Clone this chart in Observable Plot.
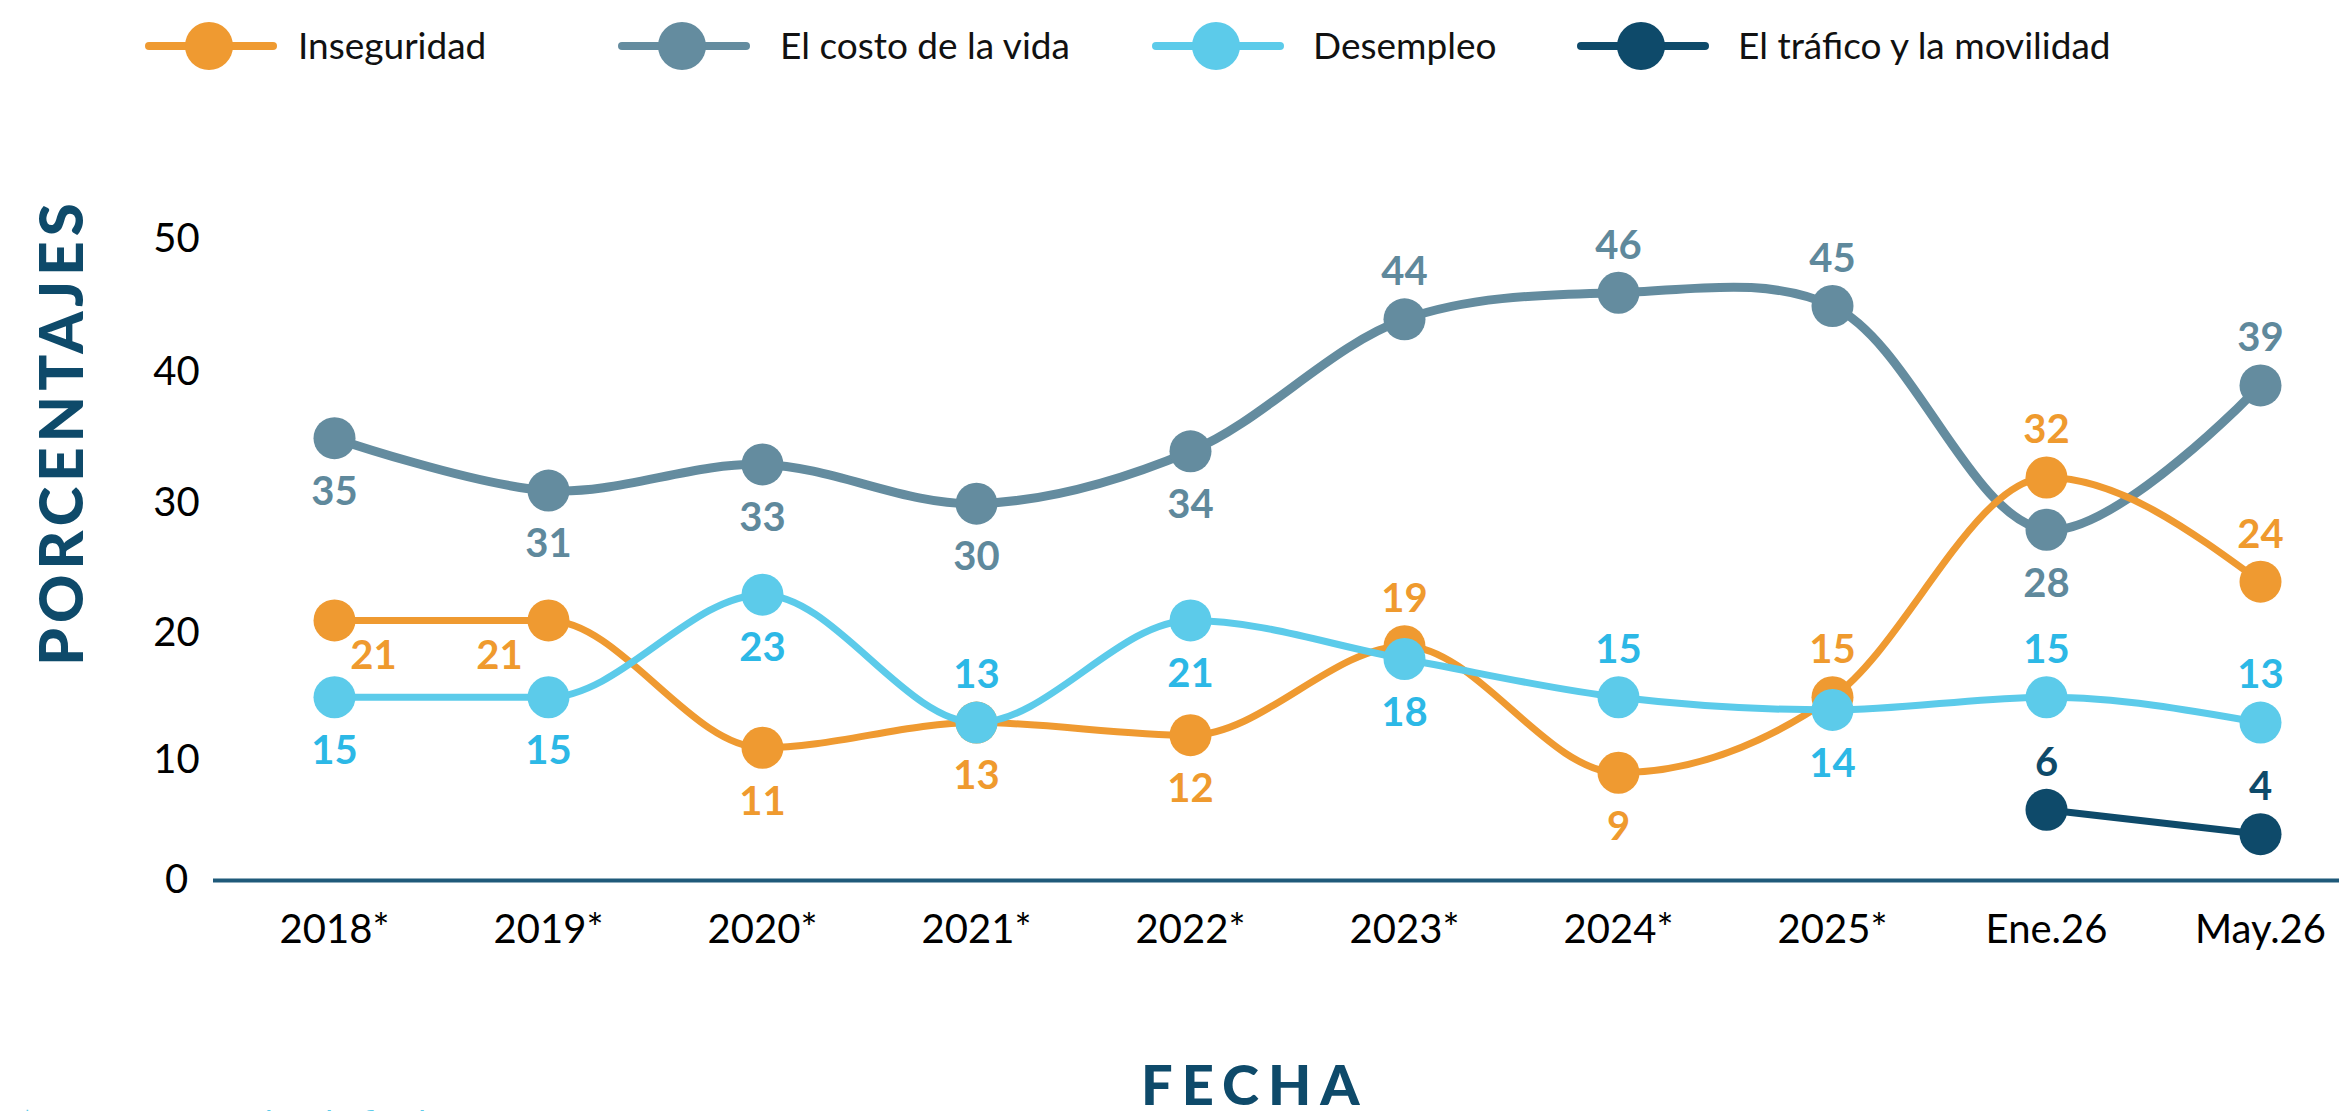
<!DOCTYPE html>
<html>
<head>
<meta charset="utf-8">
<script src="https://cdn.jsdelivr.net/npm/d3@7"></script>
<script src="https://cdn.jsdelivr.net/npm/@observablehq/plot@0.6"></script>
<style>
  html, body { margin: 0; padding: 0; background: #ffffff; }
  #root { position: relative; width: 2339px; height: 1111px; overflow: hidden; font-family: Lato, "Noto Sans", sans-serif; }
  .leg-sw { position: absolute; top: 20px; }
  .leg-tx { position: absolute; top: 23px; font-size: 37px; line-height: 44px; color: #111; white-space: nowrap; }
  #chart { position: absolute; left: 0; top: 100px; }
  #ylab { position: absolute; left: 60px; top: 432px; transform: translate(-50%, -50%) rotate(-90deg);
          font-size: 60px; font-weight: 900; letter-spacing: 5px; color: #0e4a6a; white-space: nowrap; line-height: 1; }
  #xlab { position: absolute; left: 1141px; top: 1056px; font-size: 56px; font-weight: 900; letter-spacing: 9px;
          color: #0e4a6a; line-height: 1; white-space: nowrap; }
  #note { position: absolute; left: 20px; top: 1106px; font-size: 34px; line-height: 1; color: #5ccbea; white-space: nowrap; }
</style>
</head>
<body>
<div id="root"></div>
<script>
// ---- data ----
const dates = ["2018*", "2019*", "2020*", "2021*", "2022*", "2023*", "2024*", "2025*", "Ene.26", "May.26"];
const inseguridad = [21, 21, 11, 13, 12, 19, 9, 15, 32, 24];
const costoVida   = [35, 31, 33, 30, 34, 44, 46, 45, 28, 39];
const desempleo   = [15, 15, 23, 13, 21, 18, 15, 14, 15, 13];
const trafico     = [null, null, null, null, null, null, null, null, 6, 4];
const yTicks = [0, 10, 20, 30, 40, 50];
const seriesNames = ["Inseguridad", "El costo de la vida", "Desempleo", "El tráfico y la movilidad"];

// ---- label placement (a = above, b = below, br/bl = below right/left) ----
const insegPos  = ["br", "bl", "b", "b", "b", "a", "b", "a", "a", "a"];
const costoPos  = ["b", "b", "b", "b", "b", "a", "a", "a", "b", "a"];
const desemPos  = ["b", "b", "b", "a", "b", "b", "a", "b", "a", "a"];
const traficoPos = [null, null, null, null, null, null, null, null, "a", "a"];

// ---- styles ----
const styles = {
  "Inseguridad": {color: "#ef9a31", label: "#ef9a2e", sw: 7, curve: "monotone-x"},
  "El costo de la vida": {color: "#648c9f", label: "#5f899c", sw: 9, curve: "catmull-rom"},
  "Desempleo": {color: "#5ccbea", label: "#2cb8e6", sw: 7, curve: "monotone-x"},
  "El tráfico y la movilidad": {color: "#0e4a6a", label: "#0e4a6a", sw: 7, curve: "linear"}
};

const seriesData = {
  "Inseguridad": [inseguridad, insegPos],
  "El costo de la vida": [costoVida, costoPos],
  "Desempleo": [desempleo, desemPos],
  "El tráfico y la movilidad": [trafico, traficoPos]
};

function rowsFor(name) {
  const [vals, pos] = seriesData[name];
  return dates.map((d, i) => ({date: d, value: vals[i], pos: pos[i], series: name}))
              .filter(r => r.value != null);
}

const root = document.getElementById("root");

// ---- legend ----
const legSwX = [146, 619, 1153, 1578];
const legTxX = [298, 780, 1313, 1738];
seriesNames.forEach((name, i) => {
  const st = styles[name];
  const sw = document.createElementNS("http://www.w3.org/2000/svg", "svg");
  sw.setAttribute("width", 132); sw.setAttribute("height", 52);
  sw.setAttribute("class", "leg-sw");
  sw.style.left = (legSwX[i] - 1) + "px";
  sw.innerHTML = `<line x1="4" y1="26" x2="128" y2="26" stroke="${st.color}" stroke-width="8" stroke-linecap="round"/>` +
                 `<circle cx="64" cy="26" r="24" fill="${st.color}"/>`;
  root.appendChild(sw);
  const tx = document.createElement("div");
  tx.className = "leg-tx";
  tx.style.left = legTxX[i] + "px";
  tx.textContent = name;
  root.appendChild(tx);
});

// ---- chart ----
const order = ["El costo de la vida", "Inseguridad", "Desempleo", "El tráfico y la movilidad"];
const marks = [
  Plot.ruleY([0], {stroke: "#1f5a7a", strokeWidth: 4}),
  Plot.axisX({tickSize: 0, tickPadding: 34, fontSize: 40, label: null}),
  Plot.axisY({ticks: yTicks, tickSize: 0, tickPadding: 37, textAnchor: "middle", fontSize: 40, label: null})
];
for (const name of order) {
  const st = styles[name];
  const rows = rowsFor(name);
  marks.push(Plot.line(rows, {x: "date", y: "value", stroke: st.color, strokeWidth: st.sw, curve: st.curve}));
  marks.push(Plot.dot(rows, {x: "date", y: "value", r: 21, fill: st.color}));
}
const offsets = {a: [0, -47], b: [0, 54], br: [39, 36], bl: [-49, 36]};
for (const name of order) {
  const st = styles[name];
  const rows = rowsFor(name);
  for (const [k, [dx, dy]] of Object.entries(offsets)) {
    marks.push(Plot.text(rows.filter(r => r.pos === k), {
      x: "date", y: "value", text: r => String(r.value), dx, dy,
      fill: st.label, fontSize: 40, fontWeight: 700
    }));
  }
}

const chart = Plot.plot({
  width: 2339,
  height: 950,
  marginLeft: 213,
  marginRight: 0,
  marginTop: 0,
  marginBottom: 170,
  style: {fontFamily: "Lato, 'Noto Sans', sans-serif", color: "#000", background: "transparent", overflow: "visible"},
  x: {type: "point", domain: dates, range: [331, 2263], padding: 0},
  y: {type: "pow", exponent: 1.04, domain: [0, 50], range: [780, 139]},
  marks
});
chart.id = "chart";
root.appendChild(chart);

// ---- titles ----
const ylab = document.createElement("div");
ylab.id = "ylab"; ylab.textContent = "PORCENTAJES";
root.appendChild(ylab);
const xlab = document.createElement("div");
xlab.id = "xlab"; xlab.textContent = "FECHA";
root.appendChild(xlab);
const note = document.createElement("div");
note.id = "note"; note.textContent = "*Encuestas anuales de fin de año";
root.appendChild(note);
</script>
</body>
</html>
